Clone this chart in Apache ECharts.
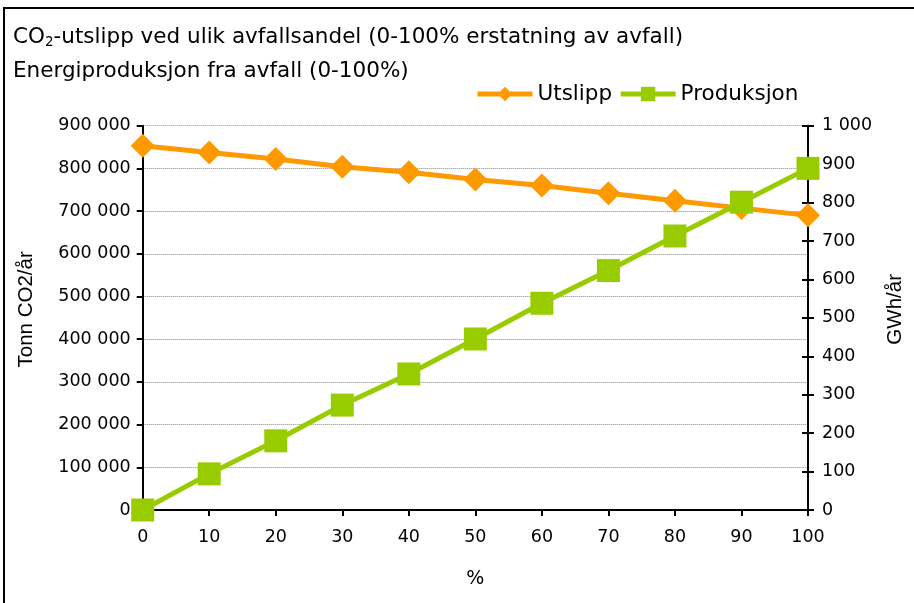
<!DOCTYPE html>
<html><head><meta charset="utf-8">
<script src="https://cdn.jsdelivr.net/npm/echarts@6/dist/echarts.min.js"></script>
<style>html,body{margin:0;padding:0;background:#fff}#c{width:914px;height:603px}</style>
</head><body><div id="c"></div>
<script>
const shares = [0, 10, 20, 30, 40, 50, 60, 70, 80, 90, 100];
const utslipp = [853000, 837000, 822000, 804000, 791000, 774000, 760000, 742000, 724000, 707000, 690000];
const produksjon = [0, 94, 180, 273, 354, 445, 538, 623, 713, 801, 889];
const titleLine1 = 'CO{s|2}-utslipp ved ulik avfallsandel (0-100% erstatning av avfall)';
const titleLine2 = 'Energiproduksjon fra avfall (0-100%)';
const FONT = 'DejaVu Sans';
const NAMEFONT = 'Liberation Sans';

function fmtThousands(v){ return String(v).replace(/\B(?=(\d{3})+(?!\d))/g, ' '); }

const chart = echarts.init(document.getElementById('c'));
const axisLine = {show:true, lineStyle:{color:'#000', width:2}};
chart.setOption({
  animation:false,
  backgroundColor:'#fff',
  textStyle:{fontFamily:FONT},
  graphic:[{type:'rect', shape:{x:4,y:8,width:1000,height:1000}, style:{fill:'none', stroke:'#000', lineWidth:2}, silent:true}],
  title:[
    {text:titleLine1, left:8, top:20, textStyle:{fontFamily:FONT, fontSize:21.5, fontWeight:'normal', color:'#000', rich:{s:{fontSize:13.5, verticalAlign:'bottom', padding:[10,0,0,0], fontFamily:FONT}}}},
    {text:titleLine2, left:8, top:55, textStyle:{fontFamily:FONT, fontSize:21.5, fontWeight:'normal', color:'#000'}}
  ],
  legend:{top:78, left:470, itemWidth:55, itemHeight:18, itemGap:6,
    lineStyle:{width:5},
    textStyle:{fontFamily:FONT, fontSize:21.5, color:'#000'},
    data:['Utslipp','Produksjon']},
  grid:{left:142.7, right:106, top:125.7, bottom:93},
  xAxis:{type:'value', min:0, max:100, interval:10, name:'%', nameLocation:'middle', nameGap:60,
    nameTextStyle:{fontFamily:FONT, fontSize:19, color:'#000'},
    axisLine:axisLine, axisTick:{show:true, length:6, lineStyle:{color:'#000', width:2}},
    axisLabel:{fontFamily:FONT, fontSize:17.5, color:'#000', margin:18},
    splitLine:{show:false}},
  yAxis:[
    {type:'value', min:0, max:900000, interval:100000, position:'left', name:'Tonn CO2/år', nameLocation:'middle', nameGap:106, nameRotate:90,
      nameTextStyle:{fontFamily:NAMEFONT, fontSize:20.5, color:'#000', padding:[0,0,0,17]},
      axisLine:axisLine, axisTick:{show:true, length:6, lineStyle:{color:'#000', width:2}},
      axisLabel:{fontFamily:FONT, fontSize:17.5, color:'#000', margin:12, formatter:fmtThousands},
      splitLine:{show:true, lineStyle:{color:'#888', type:'dotted', width:1}}},
    {type:'value', min:0, max:1000, interval:100, position:'right', name:'GWh/år', nameLocation:'middle', nameGap:77, nameRotate:90,
      nameTextStyle:{fontFamily:NAMEFONT, fontSize:20.5, color:'#000', padding:[0,0,0,17]},
      axisLine:axisLine, axisTick:{show:true, length:6, lineStyle:{color:'#000', width:2}},
      axisLabel:{fontFamily:FONT, fontSize:17.5, color:'#000', margin:14, formatter:fmtThousands},
      splitLine:{show:false}},
    {type:'value', min:0, max:1000, interval:100, position:'right',
      axisLine:{show:false}, axisTick:{show:true, inside:true, length:6, lineStyle:{color:'#000', width:2}},
      axisLabel:{show:false}, splitLine:{show:false}}
  ],
  series:[
    {name:'Utslipp', type:'line', yAxisIndex:0, data:shares.map((s,i)=>[s, utslipp[i]]),
      symbol:'diamond', symbolSize:24, color:'#FF9900', lineStyle:{width:5, color:'#FF9900'}, itemStyle:{color:'#FF9900'}, z:3},
    {name:'Produksjon', type:'line', yAxisIndex:1, data:shares.map((s,i)=>[s, produksjon[i]]),
      symbol:'rect', symbolSize:23, color:'#99CC00', lineStyle:{width:5, color:'#99CC00'}, itemStyle:{color:'#99CC00'}, z:4}
  ]
});
</script></body></html>
